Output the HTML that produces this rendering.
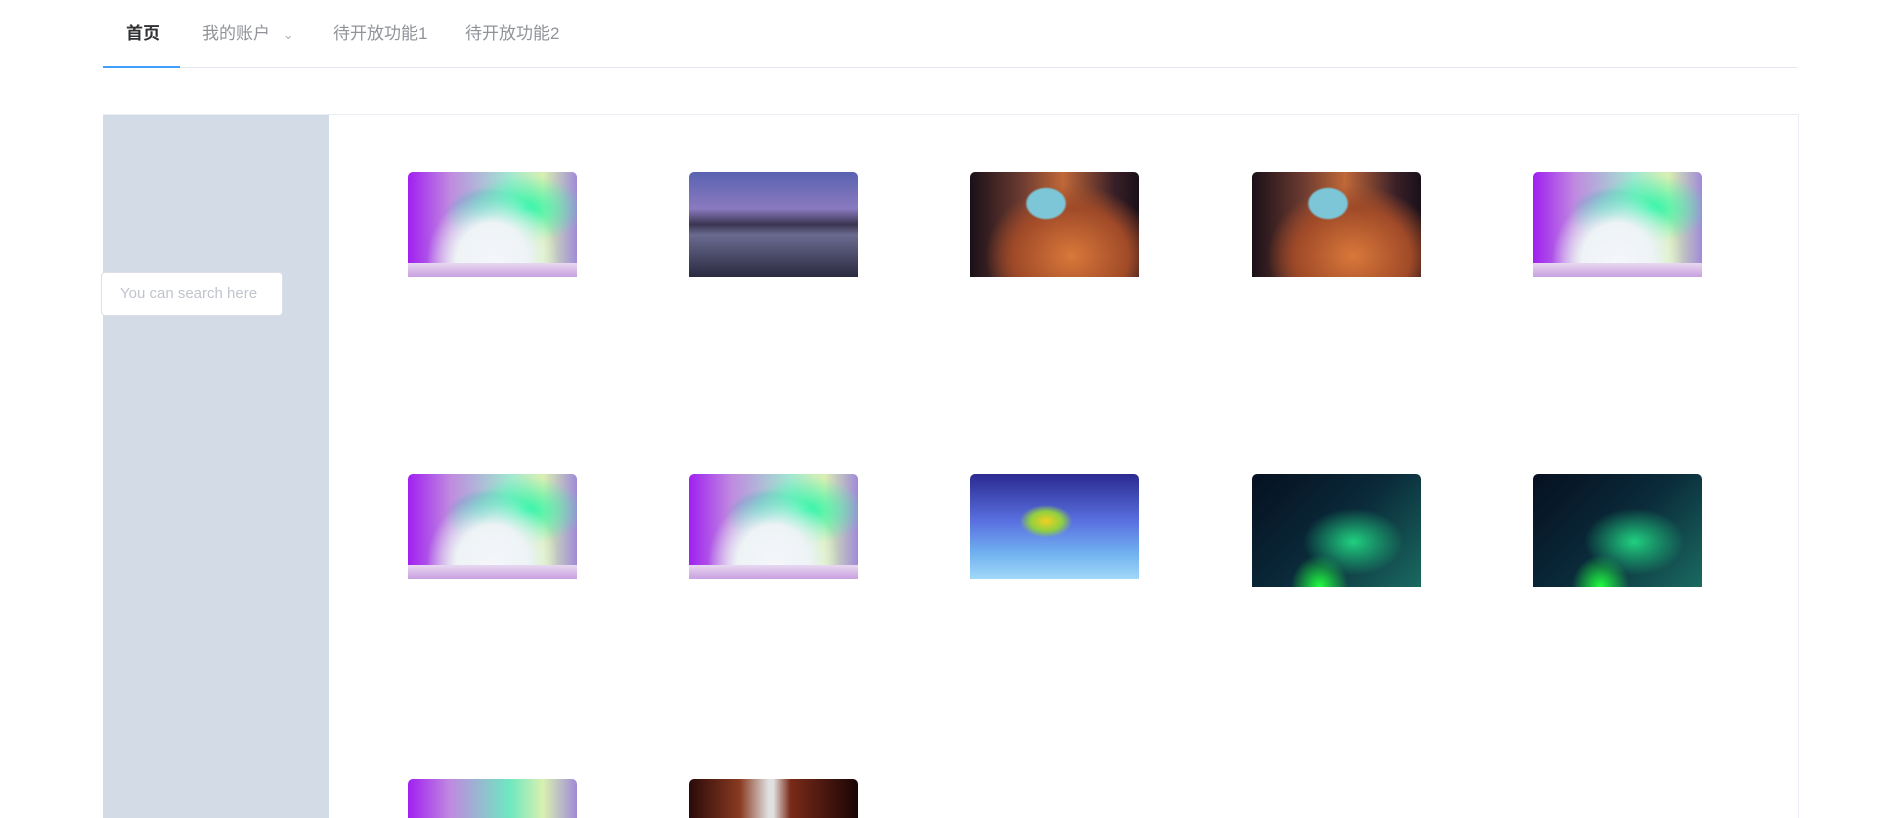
<!DOCTYPE html>
<html style="overflow:hidden"><head><meta charset="utf-8"><style>
html,body{margin:0;width:1902px;height:818px;overflow:hidden}
body{background:#fff;font-family:"Liberation Sans","Noto Sans CJK SC",sans-serif}
#wrap{position:relative;width:1902px;height:818px;overflow:hidden}
.abs{position:absolute}
.tab{position:absolute;top:23px;font-size:17px;color:#909399;line-height:22px}
.img{position:absolute;width:169px;height:105px;border-radius:5px 5px 0 0;overflow:hidden}
.aur{background:radial-gradient(ellipse at 50% 85%,#f4f6fa 0,#eef3f6 30%,rgba(240,240,250,0) 55%),radial-gradient(ellipse at 70% 35%,#2ef5a8 0,rgba(40,240,160,0) 35%),radial-gradient(ellipse at 45% 40%,#3bb7b7 0,rgba(60,180,180,0) 30%),linear-gradient(90deg,#a020f0 0,#c08ae0 25%,#9fe8d0 60%,#d8f0b0 80%,#a08ad8 100%);}
.aur:after{content:"";position:absolute;left:0;right:0;bottom:0;height:14px;background:linear-gradient(#e8d8f0,#c8a0e0)}
.mtn{background:linear-gradient(180deg,#5a62b0 0,#8a7ac0 35%,#3a3550 50%,#6a6a90 60%,#2a2a40 100%)}
.cav{background:radial-gradient(ellipse at 45% 30%,#7cc6d8 0,#7cc6d8 14%,rgba(0,0,0,0) 16%),radial-gradient(ellipse at 60% 80%,#d8783a 0,#a04a28 40%,rgba(0,0,0,0) 60%),linear-gradient(90deg,#1a1018 0,#6a3a30 30%,#c06838 55%,#3a2028 85%,#1a1018 100%)}
.fish{background:radial-gradient(ellipse at 45% 45%,#f0d020 0,#90d040 12%,rgba(0,0,0,0) 20%),linear-gradient(180deg,#2a2a90 0,#5a70e0 45%,#70b0f0 75%,#a0d8f8 100%)}
.grn{height:113px;background:radial-gradient(ellipse at 60% 60%,#20d080 0,rgba(30,200,120,0) 35%),radial-gradient(ellipse at 40% 100%,#20ff40 0,rgba(30,255,60,0) 20%),linear-gradient(135deg,#061020 0,#0a2a3a 50%,#1a6a60 100%)}
.can{background:linear-gradient(90deg,#2a0a0a 0,#8a3a20 30%,#e0e0e0 47%,#e0e0e0 50%,#7a2a18 60%,#1a0505 100%)}
.last{height:39px}
.aur.last{background:linear-gradient(90deg,#a020f0 0,#c08ae0 25%,#6ee8c0 60%,#d8f0b0 80%,#a08ad8 100%)}
.aur.last:after{display:none}
</style></head><body><div id="wrap">
<div class="tab" style="left:126px;color:#303133;font-weight:bold">首页</div>
<div class="tab" style="left:202px">我的账户 <span style="font-size:13px;margin-left:8px;color:#b0b3b8">&#8964;</span></div>
<div class="tab" style="left:333px">待开放功能1</div>
<div class="tab" style="left:465px">待开放功能2</div>
<div class="abs" style="left:103px;top:67px;width:1695px;height:1px;background:#e4e7ed"></div>
<div class="abs" style="left:103px;top:66px;width:77px;height:2px;background:#409eff"></div>
<div class="abs" style="left:103px;top:114px;width:1694px;height:704px;border:1px solid #ebeef5;border-bottom:none"></div>
<div class="abs" style="left:103px;top:115px;width:226px;height:703px;background:#d3dce6"></div>
<div class="abs" style="left:101px;top:272px;width:180px;height:42px;background:#fff;border:1px solid #dcdfe6;border-radius:4px;font-size:15px;color:#c0c4cc;line-height:42px;text-indent:18px">You can search here</div>
<div class="img aur" style="left:408px;top:172px"></div>
<div class="img mtn" style="left:689px;top:172px"></div>
<div class="img cav" style="left:970px;top:172px"></div>
<div class="img cav" style="left:1252px;top:172px"></div>
<div class="img aur" style="left:1533px;top:172px"></div>
<div class="img aur" style="left:408px;top:474px"></div>
<div class="img aur" style="left:689px;top:474px"></div>
<div class="img fish" style="left:970px;top:474px"></div>
<div class="img grn" style="left:1252px;top:474px"></div>
<div class="img grn" style="left:1533px;top:474px"></div>
<div class="img aur last" style="left:408px;top:779px"></div>
<div class="img can last" style="left:689px;top:779px"></div>
</div></body></html>
